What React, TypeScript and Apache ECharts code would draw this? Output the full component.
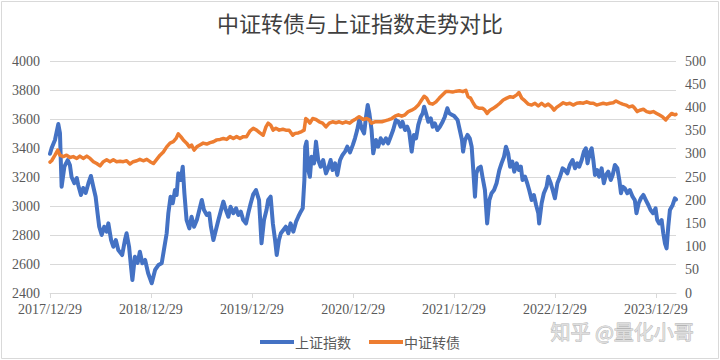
import React, { useEffect, useRef } from "react";
import * as echarts from "echarts";

// Start date of the x axis and the number of calendar days shown
const startDate = [2017, 12, 29];
const totalDays = 2264; // through 2024/03/11

// 上证指数: day offset since 2017/12/29, and index level
const shDays = [
  0, 6, 18, 30, 36, 42, 52, 64, 72, 78, 88, 97, 102, 112, 120, 129, 139, 148, 157, 165,
  172, 178, 187, 196, 205, 211, 221, 229, 238, 247, 261, 271, 277, 286, 293, 298, 307, 317, 325, 334,
  344, 355, 368, 380, 392, 404, 412, 422, 428, 436, 444, 452, 458, 464, 473, 480, 486, 494, 504, 512,
  521, 531, 540, 549, 557, 567, 576, 582, 591, 600, 609, 617, 627, 636, 645, 653, 663, 673, 681, 690,
  699, 709, 717, 726, 735, 745, 756, 765, 774, 783, 789, 798, 806, 814, 820, 828, 835, 844, 853, 862,
  870, 880, 890, 898, 907, 914, 920, 923, 928, 934, 940, 946, 955, 962, 970, 979, 988, 998, 1006, 1015,
  1022, 1031, 1039, 1049, 1058, 1067, 1075, 1085, 1095, 1103, 1111, 1119, 1127, 1136, 1143, 1149, 1155, 1163, 1169, 1179,
  1187, 1196, 1205, 1215, 1223, 1232, 1241, 1251, 1260, 1268, 1275, 1284, 1292, 1299, 1308, 1316, 1324, 1332, 1341, 1348,
  1353, 1360, 1368, 1377, 1384, 1392, 1401, 1410, 1420, 1428, 1437, 1444, 1453, 1462, 1474, 1482, 1490, 1494, 1501, 1510,
  1518, 1525, 1530, 1537, 1542, 1549, 1558, 1564, 1573, 1581, 1589, 1597, 1606, 1615, 1625, 1633, 1642, 1649, 1657, 1664,
  1672, 1679, 1688, 1696, 1703, 1709, 1718, 1726, 1733, 1742, 1750, 1758, 1766, 1769, 1778, 1786, 1796, 1802, 1811, 1818,
  1826, 1835, 1844, 1854, 1862, 1871, 1880, 1890, 1899, 1907, 1914, 1923, 1931, 1938, 1944, 1953, 1959, 1965, 1971, 1979,
  1986, 1995, 2003, 2011, 2019, 2028, 2035, 2043, 2052, 2059, 2065, 2071, 2079, 2088, 2097, 2107, 2115, 2121, 2129, 2137,
  2146, 2155, 2164, 2172, 2181, 2190, 2196, 2203, 2212, 2218, 2224, 2230, 2236, 2242, 2252, 2260, 2264,
];
const shValues = [
  3360, 3400, 3455, 3565, 3503, 3133, 3271, 3317, 3283, 3200, 3158, 3193, 3145, 3076, 3124, 3090, 3157, 3207, 3129, 3064,
  2950, 2857, 2800, 2857, 2823, 2880, 2765, 2719, 2765, 2697, 2662, 2765, 2812, 2719, 2581, 2490, 2650, 2607, 2685, 2605,
  2628, 2536, 2467, 2559, 2593, 2605, 2697, 2812, 2950, 3064, 3019, 3110, 3076, 3225, 3179, 3271, 3088, 2903, 2846, 2926,
  2857, 2903, 2972, 3041, 2972, 2938, 2950, 2857, 2765, 2834, 2903, 2961, 3030, 2972, 2926, 2995, 2950, 2984, 2938, 2961,
  2903, 2880, 2950, 3019, 3080, 3110, 3041, 2743, 2903, 2972, 3041, 3064, 2880, 2765, 2662, 2765, 2812, 2834, 2857, 2812,
  2880, 2823, 2892, 2926, 2961, 2984, 3179, 3409, 3444, 3248, 3202, 3340, 3294, 3444, 3317, 3271, 3317, 3225, 3260, 3317,
  3248, 3294, 3214, 3317, 3352, 3375, 3409, 3370, 3420, 3467, 3524, 3600, 3536, 3501, 3616, 3697, 3639, 3524, 3363, 3455,
  3409, 3467, 3432, 3467, 3432, 3478, 3524, 3593, 3581, 3547, 3581, 3524, 3547, 3512, 3375, 3490, 3467, 3559, 3616, 3639,
  3685, 3639, 3581, 3605, 3547, 3570, 3524, 3547, 3581, 3616, 3674, 3639, 3630, 3620, 3593, 3524, 3455, 3375, 3455, 3490,
  3467, 3409, 3271, 3064, 3225, 3260, 3271, 3202, 3110, 2880, 3041, 3088, 3110, 3157, 3248, 3294, 3340, 3409, 3363, 3271,
  3306, 3237, 3294, 3248, 3271, 3179, 3202, 3157, 3110, 3041, 3076, 3007, 2950, 2880, 3019, 3088, 3133, 3202, 3157, 3110,
  3053, 3157, 3200, 3260, 3248, 3225, 3283, 3317, 3260, 3294, 3271, 3317, 3375, 3398, 3294, 3375, 3398, 3317, 3214, 3248,
  3202, 3260, 3157, 3214, 3237, 3179, 3214, 3283, 3260, 3179, 3088, 3133, 3122, 3088, 3110, 3064, 3041, 2950, 3019, 3053,
  3076, 3041, 3007, 2972, 2950, 2984, 2903, 2880, 2903, 2812, 2743, 2708, 2857, 2972, 3007, 3053, 3045,
];

// 中证转债: day offset since 2017/12/29, and index level (right axis)
const cbDays = [
  0, 6, 18, 28, 36, 48, 60, 72, 84, 97, 108, 120, 133, 145, 157, 169, 181, 193, 205, 217,
  229, 241, 253, 265, 277, 289, 301, 314, 325, 337, 350, 362, 374, 386, 398, 410, 422, 434, 446, 456,
  464, 473, 482, 494, 504, 512, 521, 531, 542, 554, 567, 579, 591, 603, 615, 627, 639, 651, 663, 675,
  687, 699, 711, 723, 735, 747, 759, 771, 781, 789, 798, 807, 817, 829, 842, 853, 865, 878, 886, 898,
  910, 919, 925, 931, 940, 950, 962, 974, 986, 998, 1010, 1022, 1034, 1046, 1058, 1070, 1084, 1094, 1106, 1118,
  1133, 1145, 1155, 1163, 1175, 1187, 1200, 1211, 1223, 1236, 1248, 1260, 1272, 1284, 1296, 1308, 1320, 1332, 1344, 1353,
  1362, 1372, 1384, 1396, 1408, 1420, 1432, 1445, 1456, 1469, 1481, 1493, 1504, 1512, 1521, 1531, 1540, 1553, 1565, 1573,
  1581, 1591, 1603, 1615, 1627, 1639, 1652, 1664, 1675, 1688, 1696, 1706, 1718, 1730, 1742, 1754, 1766, 1778, 1790, 1802,
  1814, 1823, 1832, 1844, 1856, 1868, 1880, 1892, 1905, 1917, 1929, 1941, 1953, 1965, 1977, 1989, 2001, 2013, 2025, 2037,
  2047, 2059, 2071, 2083, 2095, 2107, 2115, 2124, 2133, 2146, 2158, 2170, 2182, 2194, 2203, 2215, 2227, 2235, 2248, 2260,
  2264,
];
const cbValues = [
  282, 285, 297, 308, 297, 294, 297, 292, 294, 290, 295, 290, 295, 290, 283, 279, 274, 283, 287, 283,
  287, 283, 284, 283, 285, 278, 283, 285, 288, 285, 288, 283, 279, 288, 297, 304, 315, 323, 326, 333,
  343, 337, 330, 323, 315, 319, 308, 315, 319, 323, 321, 324, 326, 330, 331, 333, 331, 337, 333, 337,
  333, 337, 337, 349, 355, 351, 345, 340, 358, 366, 362, 351, 355, 351, 353, 351, 351, 340, 344, 345,
  348, 351, 376, 373, 366, 376, 374, 369, 366, 358, 366, 369, 367, 369, 366, 369, 366, 371, 375, 380,
  374, 376, 373, 366, 369, 369, 369, 371, 373, 376, 381, 384, 381, 384, 391, 394, 398, 405, 416, 424,
  420, 409, 407, 412, 420, 427, 434, 434, 433, 435, 436, 434, 437, 423, 420, 409, 401, 398, 398, 394,
  387, 394, 398, 403, 409, 416, 420, 423, 422, 427, 432, 420, 414, 407, 405, 409, 403, 409, 403, 407,
  401, 394, 400, 405, 410, 407, 409, 405, 409, 410, 409, 412, 409, 409, 405, 407, 409, 407, 409, 410,
  414, 410, 407, 405, 401, 403, 398, 391, 394, 396, 391, 389, 391, 387, 384, 380, 373, 379, 387, 384,
  385,
];

const leftTicks = { min: 2400, max: 4000, interval: 200 };
const rightTicks = { min: 0, max: 500, interval: 50 };

const titleText = "中证转债与上证指数走势对比";
const seriesNames = ["上证指数", "中证转债"];
const watermark = "知乎 @量化小哥";

function buildCategories(): string[] {
  const base = Date.UTC(startDate[0], startDate[1] - 1, startDate[2]);
  const out: string[] = [];
  for (let d = 0; d <= totalDays; d++) {
    const dt = new Date(base + d * 86400000);
    const m = String(dt.getUTCMonth() + 1).padStart(2, "0");
    const day = String(dt.getUTCDate()).padStart(2, "0");
    out.push(`${dt.getUTCFullYear()}/${m}/${day}`);
  }
  return out;
}

export default function App() {
  const ref = useRef<HTMLDivElement>(null);
  useEffect(() => {
    if (!ref.current) return;
    const chart = echarts.init(ref.current, null, { renderer: "svg" });
    const categories = buildCategories();
    const yearMark = (_i: number, v: string) => v.endsWith("/12/29");
    const axisFont = "'Liberation Serif', 'DejaVu Serif', serif";
    const cjkFont = "'Noto Sans CJK SC', sans-serif";
    chart.setOption({
      animation: false,
      backgroundColor: "#ffffff",
      title: {
        text: titleText,
        left: "center",
        top: 11,
        padding: 0,
        textStyle: { fontFamily: cjkFont, fontSize: 22, fontWeight: "normal", color: "#404040" },
      },
      legend: {
        data: seriesNames,
        left: "center",
        top: 330,
        icon: "rect",
        itemWidth: 34,
        itemHeight: 4,
        itemGap: 18,
        textStyle: { fontFamily: cjkFont, fontSize: 14, color: "#595959", padding: [0, 0, 0, -4] },
      },
      grid: { left: 50, right: 44, top: 61, bottom: 67, containLabel: false },
      xAxis: {
        type: "category",
        data: categories,
        boundaryGap: false,
        axisLine: { lineStyle: { color: "#d9d9d9", width: 1 } },
        axisTick: { show: true, interval: yearMark, length: 5, lineStyle: { color: "#d9d9d9" } },
        axisLabel: {
          interval: yearMark,
          margin: 9,
          fontFamily: axisFont,
          fontSize: 14,
          color: "#595959",
        },
        splitLine: { show: false },
      },
      yAxis: [
        {
          type: "value",
          ...leftTicks,
          axisLine: { show: false },
          axisTick: { show: false },
          axisLabel: {
            fontFamily: axisFont,
            fontSize: 14,
            color: "#595959",
            margin: 10,
            formatter: (v: number) => String(v),
          },
          splitLine: { lineStyle: { color: "#d9d9d9", width: 1 } },
        },
        {
          type: "value",
          ...rightTicks,
          axisLine: { show: false },
          axisTick: { show: false },
          axisLabel: {
            fontFamily: axisFont,
            fontSize: 14,
            color: "#595959",
            margin: 9,
            formatter: (v: number) => String(v),
          },
          splitLine: { show: false },
        },
      ],
      series: [
        {
          name: seriesNames[0],
          type: "line",
          yAxisIndex: 0,
          showSymbol: false,
          data: shDays.map((d, i) => [d, shValues[i]]),
          lineStyle: { color: "#4472C4", width: 4, join: "round", cap: "round" },
          itemStyle: { color: "#4472C4" },
          z: 2,
        },
        {
          name: seriesNames[1],
          type: "line",
          yAxisIndex: 1,
          showSymbol: false,
          data: cbDays.map((d, i) => [d, cbValues[i]]),
          lineStyle: { color: "#ED7D31", width: 3.5, join: "round", cap: "round" },
          itemStyle: { color: "#ED7D31" },
          z: 3,
        },
      ],
      graphic: [
        {
          type: "rect",
          shape: { x: 1.5, y: 1.5, width: 717, height: 357 },
          style: { fill: "none", stroke: "#d9d9d9", lineWidth: 1 },
          silent: true,
        },
        {
          type: "text",
          left: 550,
          top: 321,
          style: {
            text: watermark,
            fontFamily: cjkFont,
            fontSize: 20,
            fill: "#dedede",
            stroke: "#b5b5b5",
            lineWidth: 0.8,
          },
          silent: true,
          z: 10,
        },
      ],
    });
    return () => chart.dispose();
  }, []);
  return (
    <div
      ref={ref}
      style={{ position: "fixed", left: 0, top: 0, width: 720, height: 360, background: "#fff" }}
    />
  );
}
